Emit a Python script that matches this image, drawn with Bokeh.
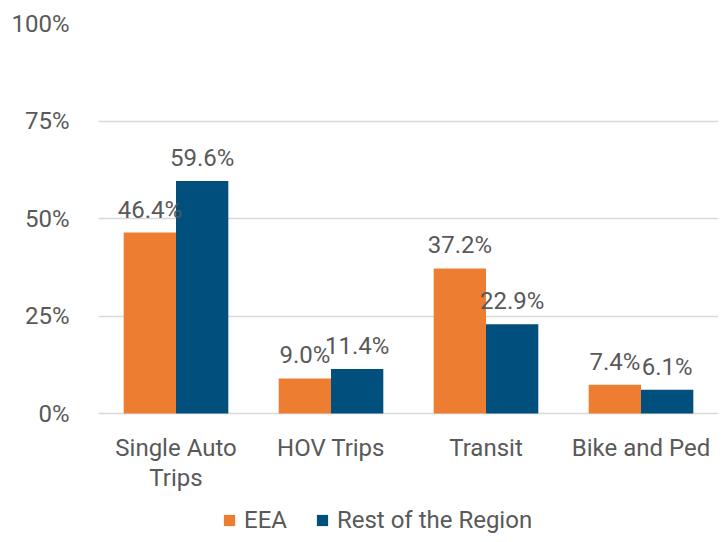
from bokeh.plotting import figure
from bokeh.models import (ColumnDataSource, FactorRange, Range1d, FixedTicker, PrintfTickFormatter,
                          LabelSet, Legend, LegendItem)
from bokeh.core.properties import value
from bokeh.transform import dodge
from bokeh.embed import file_html
from bokeh.resources import INLINE

categories = ["Single Auto Trips", "HOV Trips", "Transit", "Bike and Ped"]
cat_line1 = ["Single Auto", "HOV Trips", "Transit", "Bike and Ped"]
cat_line2 = ["Trips", "", "", ""]
eea = [46.4, 9.0, 37.2, 7.4]
rest = [59.6, 11.4, 22.9, 6.1]
series_names = ["EEA", "Rest of the Region"]
y_ticks = [0, 25, 50, 75, 100]

ORANGE = "#ED7D31"
BLUE = "#004F7C"
TXT = "#595959"
FONT = "Roboto"
FS = "24px"

src = ColumnDataSource(dict(
    cat=categories, eea=eea, rest=rest,
    eea_lbl=[f"{v:.1f}%" for v in eea],
    rest_lbl=[f"{v:.1f}%" for v in rest],
    l1=cat_line1, l2=cat_line2, zero=[0] * len(categories),
))

# frame spans from 100% (top) down to the bottom of the page; 0% sits 121px above the bottom
H, TOP = 534, 23
px_per_unit = (413 - TOP) / 100.0
y_start = -(H - 413) / px_per_unit

p = figure(width=718, height=H, x_range=FactorRange(factors=categories),
           y_range=Range1d(y_start, 100), output_backend="svg", toolbar_location=None,
           min_border_left=98, min_border_right=0, min_border_top=TOP, min_border_bottom=0)
p.x_range.range_padding = 0
p.outline_line_color = None
p.background_fill_color = "white"
p.border_fill_color = "white"

bw = 0.3375
r1 = p.vbar(x=dodge("cat", -bw / 2, range=p.x_range), top="eea", width=bw, source=src,
            fill_color=ORANGE, line_color=None)
r2 = p.vbar(x=dodge("cat", bw / 2, range=p.x_range), top="rest", width=bw, source=src,
            fill_color=BLUE, line_color=None)

for col, lbl, off in [("eea", "eea_lbl", -bw / 2), ("rest", "rest_lbl", bw / 2)]:
    ls = LabelSet(x=dodge("cat", off, range=p.x_range), y=col, text=lbl, source=src,
                  text_align="center", text_baseline="alphabetic", y_offset=15,
                  text_font=value(FONT), text_font_size=value(FS), text_color=TXT)
    p.add_layout(ls)

# category labels (two lines) under the baseline
for col, yoff in [("l1", -42), ("l2", -72)]:
    ls = LabelSet(x="cat", y="zero", text=col, source=src, text_align="center",
                  text_baseline="alphabetic", y_offset=yoff,
                  text_font=value(FONT), text_font_size=value(FS), text_color=TXT)
    p.add_layout(ls)

p.yaxis.ticker = FixedTicker(ticks=y_ticks)
p.yaxis.formatter = PrintfTickFormatter(format="%d%%")
p.yaxis.axis_line_color = None
p.yaxis.major_tick_line_color = None
p.yaxis.minor_tick_line_color = None
p.yaxis.major_label_standoff = 23
p.yaxis.major_label_text_font = FONT
p.yaxis.major_label_text_font_size = FS
p.yaxis.major_label_text_color = TXT

p.xaxis.visible = False

p.xgrid.grid_line_color = None
p.ygrid.grid_line_color = "#D9D9D9"
p.ygrid.grid_line_width = 1.5

legend = Legend(items=[LegendItem(label=series_names[0], renderers=[r1]),
                       LegendItem(label=series_names[1], renderers=[r2])],
                orientation="horizontal", location=(124, 0),
                label_text_font=FONT, label_text_font_size=FS, label_text_color=TXT,
                glyph_width=14, glyph_height=14, label_standoff=8, spacing=28,
                border_line_color=None, background_fill_alpha=0, margin=0, padding=0)
p.add_layout(legend, "center")

open("out.html", "w").write(file_html(p, INLINE))
